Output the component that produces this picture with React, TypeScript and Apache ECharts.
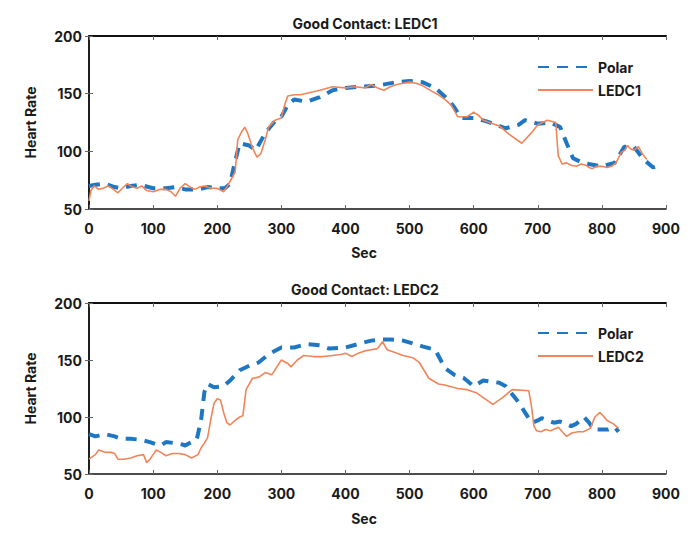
import React, { useEffect, useRef } from "react";
import * as echarts from "echarts";

const polar1X = [0, 10, 25, 40, 50, 65, 80, 100, 120, 135, 150, 170, 185, 200, 212, 220, 226, 235, 250, 260, 275, 290, 300, 310, 320, 340, 360, 380, 400, 420, 450, 480, 500, 520, 540, 560, 570, 580, 600, 620, 650, 670, 680, 700, 720, 735, 745, 755, 770, 790, 800, 820, 835, 850, 865, 880, 885];
const polar1Y = [70, 71, 72, 69, 68, 70, 71, 68, 68, 69, 67, 67, 69, 68, 68, 72, 87, 107, 105, 101, 116, 126, 130, 140, 145, 143, 147, 153, 155, 156, 157, 160, 161, 160, 155, 145, 138, 129, 129, 126, 120, 123, 127, 124, 125, 121, 107, 94, 90, 88, 87, 90, 104, 104, 93, 86, 87];

const led1X = [0, 3, 8, 15, 22, 30, 38, 45, 52, 60, 68, 75, 82, 90, 100, 110, 120, 128, 135, 142, 150, 158, 165, 172, 180, 190, 200, 210, 216, 222, 228, 232, 238, 243, 248, 255, 262, 268, 275, 280, 290, 300, 305, 310, 320, 330, 345, 360, 380, 400, 415, 430, 440, 450, 460, 470, 480, 490, 500, 510, 520, 535, 545, 555, 565, 575, 590, 600, 608, 615, 630, 640, 655, 675, 690, 700, 715, 728, 732, 738, 745, 752, 760, 768, 775, 780, 785, 792, 800, 808, 815, 822, 830, 836, 840, 845, 850, 857, 863, 870];
const led1Y = [57, 66, 70, 67, 68, 70, 67, 64, 68, 72, 69, 68, 70, 66, 65, 67, 67, 65, 61, 68, 72, 69, 67, 69, 70, 68, 68, 65, 70, 76, 82, 110, 117, 121, 115, 103, 95, 98, 110, 121, 127, 129, 140, 148, 149, 149, 151, 153, 156, 155, 156, 155, 158, 155, 153, 156, 158, 159, 160, 159, 157, 152, 149, 145, 140, 130, 130, 134, 131, 127, 124, 122, 115, 107, 116, 123, 127, 125, 96, 89, 90, 88, 87, 89, 88, 86, 85, 87, 87, 86, 87, 90, 99, 101, 105, 102, 101, 104, 98, 93];

const polar2X = [0, 10, 25, 40, 50, 65, 80, 95, 105, 112, 120, 135, 145, 150, 160, 168, 175, 180, 185, 195, 210, 220, 235, 250, 265, 280, 300, 320, 340, 360, 375, 400, 420, 440, 455, 470, 490, 520, 540, 555, 570, 585, 600, 615, 640, 650, 660, 670, 680, 687, 692, 700, 706, 715, 725, 735, 745, 752, 760, 772, 780, 787, 800, 810, 820, 826];
const polar2Y = [85, 83, 85, 83, 81, 81, 80, 78, 76, 75, 78, 77, 76, 75, 78, 80, 98, 122, 129, 126, 127, 132, 141, 145, 148, 155, 161, 161, 164, 163, 160, 161, 164, 167, 168, 168, 167, 162, 159, 143, 137, 134, 127, 132, 130, 127, 120, 113, 104, 98, 95, 97, 99, 97, 95, 96, 94, 92, 94, 100, 95, 89, 89, 89, 91, 87];

const led2X = [0, 5, 10, 15, 25, 35, 40, 45, 55, 65, 75, 85, 90, 95, 100, 105, 112, 120, 130, 140, 150, 160, 170, 175, 180, 185, 190, 195, 200, 205, 210, 215, 220, 228, 235, 240, 245, 255, 265, 275, 285, 300, 310, 315, 325, 335, 350, 365, 380, 395, 400, 410, 420, 430, 440, 450, 458, 465, 475, 490, 505, 515, 530, 545, 555, 575, 590, 605, 630, 645, 660, 686, 690, 694, 698, 705, 712, 720, 732, 740, 745, 753, 763, 771, 782, 789, 797, 802, 808, 818, 826];
const led2Y = [63, 65, 67, 71, 69, 69, 68, 63, 63, 64, 66, 67, 60, 63, 67, 71, 69, 66, 68, 68, 67, 64, 67, 73, 77, 82, 98, 112, 116, 115, 104, 95, 93, 97, 100, 101, 124, 134, 135, 139, 137, 150, 147, 144, 150, 154, 153, 153, 154, 155, 156, 153, 156, 158, 159, 160, 166, 159, 157, 154, 152, 148, 134, 129, 128, 125, 124, 121, 111, 117, 124, 123, 110, 92, 88, 87, 89, 88, 91, 86, 83, 86, 87, 87, 90, 100, 104, 101, 97, 94, 90];

const titles = ["Good Contact: LEDC1", "Good Contact: LEDC2"];
const seriesNames = ["Polar", "LEDC1", "LEDC2"];
const xName = "Sec";
const yName = "Heart Rate";

const BLUE = "#1f77c4";
const ORANGE = "#f0855a";
const FONT = "Inter";
const TXT = "#1a1a1a";

function pairs(xs: number[], ys: number[]) {
  return xs.map((x, i) => [x, ys[i]]);
}

export default function App() {
  const ref = useRef<HTMLDivElement>(null);
  useEffect(() => {
    if (!ref.current) return;
    const chart = echarts.init(ref.current, undefined, { renderer: "svg" });
    const grids = [
      { left: 89, right: 30, top: 36, height: 173 },
      { left: 89, right: 30, top: 303, height: 171 },
    ];
    const axisLine = { show: true, lineStyle: { color: "#111", width: 1.5 } };
    const tick = { show: true, inside: true, length: 4, lineStyle: { color: "#666", width: 1 } };
    const xAxes: any[] = [];
    const yAxes: any[] = [];
    grids.forEach((_, g) => {
      xAxes.push({
        type: "value", gridIndex: g, min: 0, max: 900, interval: 100, position: "bottom",
        axisLine, axisTick: tick, splitLine: { show: false },
        axisLabel: { color: TXT, fontFamily: FONT, fontWeight: "bold", fontSize: 14, margin: 12 },
      });
      xAxes.push({
        type: "value", gridIndex: g, min: 0, max: 900, interval: 100, position: "top",
        axisLine: { show: true, lineStyle: { color: "#111", width: 2 } },
        axisTick: tick, splitLine: { show: false }, axisLabel: { show: false },
      });
      yAxes.push({
        type: "value", gridIndex: g, min: 50, max: 200, interval: 50, position: "left",
        name: yName, nameLocation: "middle", nameGap: 52,
        nameTextStyle: { color: TXT, fontFamily: FONT, fontWeight: "bold", fontSize: 14 },
        axisLine, axisTick: tick, splitLine: { show: false },
        axisLabel: { color: TXT, fontFamily: FONT, fontWeight: "bold", fontSize: 14, margin: 7 },
      });
      yAxes.push({
        type: "value", gridIndex: g, min: 50, max: 200, interval: 50, position: "right",
        axisLine, axisTick: tick, splitLine: { show: false }, axisLabel: { show: false },
      });
    });
    const polarStyle = { color: BLUE, width: 4, type: [11, 8] as any };
    const ledStyle = { color: ORANGE, width: 1.6 };
    const mkSeries = (name: string, data: number[][], g: number, style: any) => ({
      type: "line", name, data, xAxisIndex: g * 2, yAxisIndex: g * 2,
      showSymbol: false, symbol: "none", color: style.color, lineStyle: style,
    });
    const legendBase = {
      orient: "vertical", left: 537, padding: 0, itemWidth: 55, itemHeight: 14, itemGap: 9,
      textStyle: { color: TXT, fontFamily: FONT, fontWeight: "bold", fontSize: 14 },
      itemStyle: { opacity: 0 },
      selectedMode: false,
    };
    const titleStyle = { color: TXT, fontFamily: FONT, fontWeight: "bold", fontSize: 14 };
    chart.setOption({
      animation: false,
      title: [
        { text: titles[0], left: 360, top: 11, textAlign: "center", textStyle: titleStyle },
        { text: titles[1], left: 360, top: 277, textAlign: "center", textStyle: titleStyle },
        { text: xName, left: 359, top: 240, textAlign: "center", textStyle: titleStyle },
        { text: xName, left: 359, top: 506, textAlign: "center", textStyle: titleStyle },
      ],
      legend: [
        { ...legendBase, top: 60, data: [seriesNames[0], seriesNames[1]] },
        { ...legendBase, top: 326, data: [seriesNames[0], seriesNames[2]] },
      ],
      grid: grids,
      xAxis: xAxes,
      yAxis: yAxes,
      series: [
        mkSeries(seriesNames[0], pairs(polar1X, polar1Y), 0, polarStyle),
        mkSeries(seriesNames[1], pairs(led1X, led1Y), 0, ledStyle),
        mkSeries(seriesNames[0], pairs(polar2X, polar2Y), 1, polarStyle),
        mkSeries(seriesNames[2], pairs(led2X, led2Y), 1, ledStyle),
      ],
    });
    return () => chart.dispose();
  }, []);
  return (
    <div
      ref={ref}
      style={{ position: "fixed", left: 0, top: 0, width: 696, height: 541, background: "#fff" }}
    />
  );
}
